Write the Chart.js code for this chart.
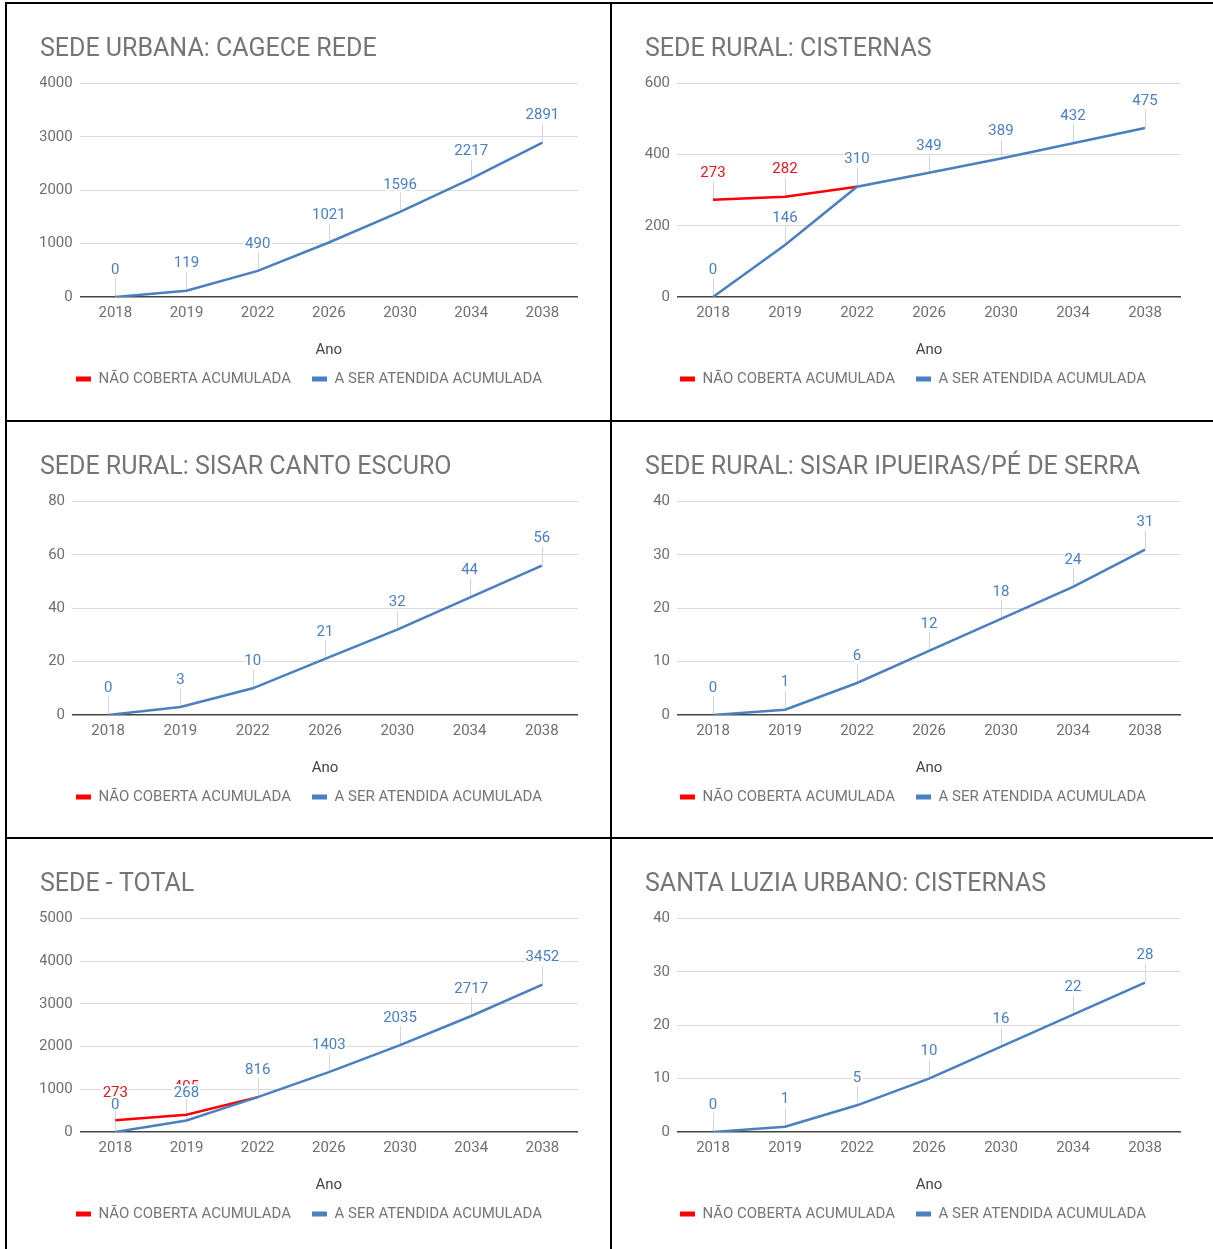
<!DOCTYPE html>
<html>
<head>
<meta charset="utf-8">
<script src="https://cdn.jsdelivr.net/npm/chart.js@4.4.1/dist/chart.umd.min.js"></script>
<style>
  body { margin: 0; background: #fff; }
  #quadro { position: relative; width: 1213px; height: 1249px; overflow: hidden; }
  .linha { position: absolute; background: #000; }
  .celula { position: absolute; overflow: hidden; }
</style>
</head>
<body>
<div id="quadro">
  <div class="linha" style="left:5px;top:2px;width:1208px;height:2px"></div>
  <div class="linha" style="left:5px;top:2px;width:2px;height:1247px"></div>
  <div class="linha" style="left:610px;top:2px;width:2px;height:1247px"></div>
  <div class="linha" style="left:5px;top:420px;width:1208px;height:2px"></div>
  <div class="linha" style="left:5px;top:837px;width:1208px;height:2px"></div>
</div>
<script>
// dados
const anos = ['2018', '2019', '2022', '2026', '2030', '2034', '2038'];
const vazio = [null, null, null, null, null, null, null];

const cageceRedeAtendida = [0, 119, 490, 1021, 1596, 2217, 2891];
const cisternasNaoCoberta = [273, 282, 310, null, null, null, null];
const cisternasAtendida = [0, 146, 310, 349, 389, 432, 475];
const cantoEscuroAtendida = [0, 3, 10, 21, 32, 44, 56];
const ipueirasAtendida = [0, 1, 6, 12, 18, 24, 31];
const totalNaoCoberta = [273, 405, 816, null, null, null, null];
const totalAtendida = [0, 268, 816, 1403, 2035, 2717, 3452];
const santaLuziaAtendida = [0, 1, 5, 10, 16, 22, 28];

const titulos = [
    'SEDE URBANA: CAGECE REDE',
    'SEDE RURAL: CISTERNAS',
    'SEDE RURAL: SISAR CANTO ESCURO',
    'SEDE RURAL: SISAR IPUEIRAS/PÉ DE SERRA',
    'SEDE - TOTAL',
    'SANTA LUZIA URBANO: CISTERNAS'
];
const naoCoberta = [vazio, cisternasNaoCoberta, vazio, vazio, totalNaoCoberta, vazio];
const atendida = [cageceRedeAtendida, cisternasAtendida, cantoEscuroAtendida, ipueirasAtendida, totalAtendida, santaLuziaAtendida];
const eixoMax = [4000, 600, 80, 40, 5000, 40];
const eixoPasso = [1000, 200, 20, 10, 1000, 10];

const AZUL = '#4a7fc0';
const VERMELHO = '#ff0000';
const FONTE = 'Roboto';

const celulas = [
    { x: 7, y: 4, w: 603, h: 416 },
    { x: 612, y: 4, w: 601, h: 416 },
    { x: 7, y: 422, w: 603, h: 415 },
    { x: 612, y: 422, w: 601, h: 415 },
    { x: 7, y: 839, w: 603, h: 416 },
    { x: 612, y: 839, w: 601, h: 416 }
];

// rotulos de valor com haste, estilo google charts
const rotulos = {
    id: 'rotulos',
    beforeDatasetsDraw(chart) {
        const ctx = chart.ctx;
        ctx.save();
        ctx.strokeStyle = '#d6d6d6';
        ctx.lineWidth = 1;
        chart.data.datasets.forEach((ds, i) => {
            const meta = chart.getDatasetMeta(i);
            meta.data.forEach((pt, j) => {
                if (ds.data[j] == null) return;
                const x = Math.round(pt.x) + 0.5;
                ctx.beginPath();
                ctx.moveTo(x, pt.y);
                ctx.lineTo(x, pt.y - 19);
                ctx.stroke();
            });
        });
        ctx.restore();
    },
    afterDatasetsDraw(chart) {
        const ctx = chart.ctx;
        const azul = chart.data.datasets[0].data;
        ctx.save();
        ctx.font = '15px ' + FONTE;
        ctx.textAlign = 'center';
        ctx.textBaseline = 'middle';
        ctx.lineJoin = 'round';
        [1, 0].forEach(i => {
            const ds = chart.data.datasets[i];
            const meta = chart.getDatasetMeta(i);
            meta.data.forEach((pt, j) => {
                const v = ds.data[j];
                if (v == null) return;
                if (i === 1 && v === azul[j]) return;
                const y = pt.y - 27;
                ctx.strokeStyle = '#fff';
                ctx.lineWidth = 4;
                ctx.strokeText(String(v), pt.x, y);
                ctx.fillStyle = i === 0 ? AZUL : '#e8141c';
                ctx.fillText(String(v), pt.x, y);
            });
        });
        ctx.restore();
    }
};

const quadro = document.getElementById('quadro');

titulos.forEach((titulo, k) => {
    const c = celulas[k];
    const div = document.createElement('div');
    div.className = 'celula';
    div.style.left = c.x + 'px';
    div.style.top = c.y + 'px';
    div.style.width = c.w + 'px';
    div.style.height = c.h + 'px';
    const canvas = document.createElement('canvas');
    canvas.width = c.w;
    canvas.height = 416;
    div.appendChild(canvas);
    quadro.appendChild(div);

    new Chart(canvas.getContext('2d'), {
        type: 'line',
        data: {
            labels: anos,
            datasets: [{
                label: 'A SER ATENDIDA ACUMULADA',
                data: atendida[k],
                borderColor: AZUL,
                backgroundColor: AZUL,
                borderWidth: 2.5,
                pointRadius: 0,
                tension: 0
            }, {
                label: 'NÃO COBERTA ACUMULADA',
                data: naoCoberta[k],
                borderColor: VERMELHO,
                backgroundColor: VERMELHO,
                borderWidth: 2.5,
                pointRadius: 0,
                tension: 0
            }]
        },
        options: {
            responsive: false,
            animation: false,
            events: [],
            layout: { padding: { left: 33, right: 32, top: 0, bottom: 23.5 } },
            scales: {
                x: {
                    offset: true,
                    grid: { display: false, drawTicks: false },
                    border: { display: false },
                    ticks: { font: { size: 15, family: FONTE }, color: '#6f6f6f', padding: 7, maxRotation: 0 },
                    title: { display: true, text: 'Ano', font: { size: 15, family: FONTE }, color: '#444', padding: { top: 0, bottom: -9 } },
                    afterFit: s => { s.height = 53.5; }
                },
                y: {
                    min: 0,
                    max: eixoMax[k],
                    border: { display: false },
                    grid: {
                        drawTicks: false,
                        color: g => g.tick && g.tick.value === 0 ? '#444' : '#dadada',
                        lineWidth: g => g.tick && g.tick.value === 0 ? 1.5 : 1
                    },
                    ticks: {
                        stepSize: eixoPasso[k],
                        font: { size: 15, family: FONTE },
                        color: '#6f6f6f',
                        padding: 7,
                        callback: v => String(v)
                    },
                    afterFit: s => { s.width = Math.max(32, s.width - 8); }
                }
            },
            plugins: {
                title: {
                    display: true,
                    text: titulo,
                    align: 'start',
                    font: { size: 25, family: FONTE, weight: 'normal' },
                    color: '#757575',
                    padding: { top: 31, bottom: 18.5 }
                },
                legend: {
                    position: 'bottom',
                    reverse: true,
                    labels: {
                        boxWidth: 15,
                        boxHeight: 5,
                        padding: 21,
                        color: '#757575',
                        font: { size: 15, family: FONTE },
                        generateLabels: chart => Chart.defaults.plugins.legend.labels.generateLabels(chart)
                            .map(item => Object.assign(item, { lineWidth: 0 }))
                    }
                },
                tooltip: { enabled: false }
            }
        },
        plugins: [rotulos]
    });
});
</script>
</body>
</html>
